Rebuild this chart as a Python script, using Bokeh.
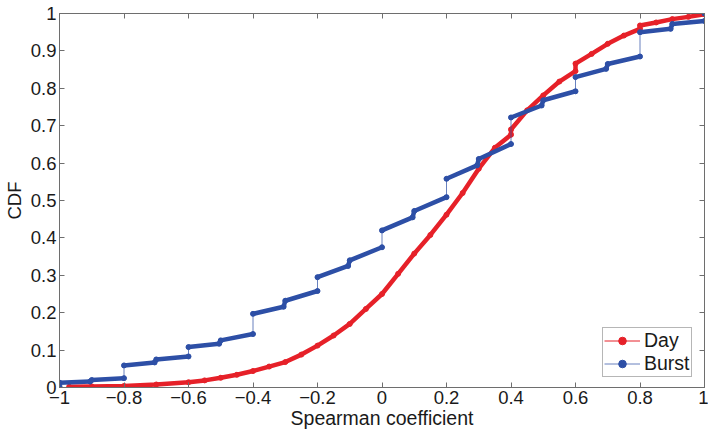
from bokeh.plotting import figure
from bokeh.models import Range1d, LinearAxis, FixedTicker, Legend, LegendItem
from bokeh.embed import file_html
from bokeh.resources import INLINE

# ---------------- data ----------------
day_x = [-0.97, -0.9, -0.8, -0.7, -0.6, -0.55, -0.5, -0.45, -0.4, -0.35, -0.3, -0.25,
         -0.2, -0.15, -0.1, -0.05, 0.0, 0.05, 0.1, 0.15, 0.2, 0.25, 0.3, 0.35, 0.4, 0.4,
         0.45, 0.5, 0.55, 0.6, 0.6, 0.65, 0.7, 0.75, 0.8, 0.8, 0.85, 0.9, 0.95, 1.0]
day_y = [0.002, 0.003, 0.004, 0.008, 0.014, 0.019, 0.026, 0.034, 0.044, 0.056, 0.068, 0.088,
         0.112, 0.139, 0.170, 0.210, 0.250, 0.304, 0.358, 0.408, 0.462, 0.520, 0.585, 0.641, 0.676, 0.690,
         0.741, 0.781, 0.818, 0.846, 0.866, 0.892, 0.919, 0.941, 0.959, 0.968, 0.976, 0.985, 0.991, 0.998]

burst_x = [-1.0, -1.0, -0.905, -0.9, -0.8, -0.8, -0.705, -0.7, -0.6, -0.6, -0.505, -0.5, -0.4, -0.4,
           -0.305, -0.3, -0.2, -0.2, -0.105, -0.1, 0.0, 0.0, 0.095, 0.1, 0.2, 0.2, 0.295, 0.3, 0.4, 0.4,
           0.495, 0.5, 0.6, 0.6, 0.695, 0.7, 0.8, 0.8, 0.895, 0.9, 1.0, 1.0]
burst_y = [0.003, 0.013, 0.016, 0.020, 0.025, 0.059, 0.067, 0.075, 0.083, 0.108, 0.117, 0.126, 0.143, 0.197,
           0.216, 0.232, 0.258, 0.295, 0.325, 0.340, 0.375, 0.420, 0.455, 0.472, 0.509, 0.558, 0.594, 0.611, 0.651, 0.722,
           0.754, 0.768, 0.792, 0.830, 0.852, 0.865, 0.885, 0.950, 0.959, 0.972, 0.980, 1.0]

x_ticks = [-1, -0.8, -0.6, -0.4, -0.2, 0, 0.2, 0.4, 0.6, 0.8, 1]
x_tick_labels = ["\u22121", "\u22120.8", "\u22120.6", "\u22120.4", "\u22120.2", "0", "0.2", "0.4", "0.6", "0.8", "1"]
y_ticks = [0, 0.1, 0.2, 0.3, 0.4, 0.5, 0.6, 0.7, 0.8, 0.9, 1]
y_tick_labels = ["0", "0.1", "0.2", "0.3", "0.4", "0.5", "0.6", "0.7", "0.8", "0.9", "1"]

series_names = ["Day", "Burst"]
RED = "#e62129"
BLUE = "#2d4fa6"
FONT = "Liberation Sans"
TICK_FS = "18.5px"
LABEL_FS = "19.5px"
YLABEL_FS = "18.5px"
AXIS_COLOR = "#6e6e6e"
TEXT_COLOR = "#1a1a1a"

# ---------------- figure ----------------
p = figure(width=708, height=433, output_backend="svg", toolbar_location=None,
           x_range=Range1d(-1, 1), y_range=Range1d(0, 1),
           min_border_left=57, min_border_right=4, min_border_top=13, min_border_bottom=46)
p.xgrid.visible = False
p.ygrid.visible = False
p.outline_line_color = AXIS_COLOR
p.background_fill_color = "white"

def style_axis(ax, ticks, labels, show_labels=True):
    ax.ticker = FixedTicker(ticks=ticks)
    ax.major_tick_in = 5
    ax.major_tick_out = 0
    ax.minor_tick_line_color = None
    ax.axis_line_color = AXIS_COLOR
    ax.major_tick_line_color = AXIS_COLOR
    ax.major_label_text_font = FONT
    ax.major_label_text_color = TEXT_COLOR
    if show_labels:
        ax.major_label_overrides = {t: l for t, l in zip(ticks, labels)}
        ax.major_label_text_font_size = TICK_FS
        ax.major_label_standoff = 3
    else:
        ax.major_label_overrides = {t: "" for t in ticks}
        ax.major_label_text_font_size = "1px"
        ax.major_label_standoff = 0

style_axis(p.xaxis[0], x_ticks, x_tick_labels)
style_axis(p.yaxis[0], y_ticks, y_tick_labels)
p.xaxis[0].axis_label = "Spearman coefficient"
p.yaxis[0].axis_label = "CDF"
for ax in (p.xaxis[0], p.yaxis[0]):
    ax.axis_label_text_font = FONT
    ax.axis_label_text_font_style = "normal"
    ax.axis_label_text_color = TEXT_COLOR
p.xaxis[0].axis_label_text_font_size = LABEL_FS
p.yaxis[0].axis_label_text_font_size = YLABEL_FS
p.xaxis[0].axis_label_standoff = 0
p.yaxis[0].axis_label_standoff = 3

top = LinearAxis()
style_axis(top, x_ticks, x_tick_labels, show_labels=False)
p.add_layout(top, "above")
right = LinearAxis()
style_axis(right, y_ticks, y_tick_labels, show_labels=False)
p.add_layout(right, "right")

# ---------------- Day ----------------
p.line(day_x, day_y, line_color=RED, line_width=4.5, line_cap="round", line_join="round")
day_line = p.line(day_x, day_y, line_color=RED, line_width=1)
day_pts = p.scatter(day_x, day_y, marker="circle", size=5, fill_color=RED, line_color=RED)

# ---------------- Burst ----------------
burst_line = p.line(burst_x, burst_y, line_color=BLUE, line_width=0.9, line_alpha=0.8)
runs_x, runs_y = [], []
for i in range(len(burst_x) - 1):
    if burst_x[i + 1] != burst_x[i]:
        runs_x.append([burst_x[i], burst_x[i + 1]])
        runs_y.append([burst_y[i], burst_y[i + 1]])
p.multi_line(runs_x, runs_y, line_color=BLUE, line_width=4.5, line_cap="round")
burst_pts = p.scatter(burst_x, burst_y, marker="circle", size=5, fill_color=BLUE, line_color=BLUE)

legend = Legend(items=[LegendItem(label=series_names[0], renderers=[day_line, day_pts]),
                       LegendItem(label=series_names[1], renderers=[burst_line, burst_pts])],
                location="bottom_right")
legend.label_text_font = FONT
legend.label_text_font_size = LABEL_FS
legend.label_text_color = TEXT_COLOR
legend.border_line_color = AXIS_COLOR
legend.border_line_width = 1
legend.padding = 1
legend.spacing = -9
legend.margin = 0
legend.location = (543, 10)
legend.glyph_width = 36
legend.glyph_height = 19
legend.label_height = 19
legend.label_standoff = 4
legend.background_fill_color = "white"
p.add_layout(legend)

open("out.html", "w").write(file_html(p, INLINE))
